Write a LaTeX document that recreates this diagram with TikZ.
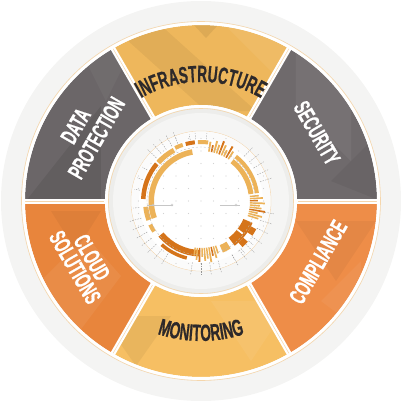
\documentclass[tikz,border=0pt]{standalone}
\usepackage{fontspec}
\usetikzlibrary{decorations.text}
\newfontfamily\lblfont[FakeStretch=0.58,FakeBold=0.6]{Liberation Sans}
\newcommand\seglbl{\lblfont\bfseries\fontsize{23.5pt}{24pt}\selectfont}
\definecolor{bgring}{RGB}{244,244,243}
\definecolor{innergray}{RGB}{237,237,235}
\definecolor{innerlight}{RGB}{245,245,244}
\definecolor{pale}{RGB}{245,214,172}
\definecolor{cInfra}{RGB}{238,183,92}
\definecolor{cSec}{RGB}{111,106,108}
\definecolor{cComp}{RGB}{238,141,72}
\definecolor{cMon}{RGB}{246,191,99}
\definecolor{cCloud}{RGB}{232,133,60}
\definecolor{cData}{RGB}{107,102,104}
\definecolor{darktext}{RGB}{45,41,42}
\definecolor{oLight}{RGB}{236,178,88}
\definecolor{oDark}{RGB}{213,116,26}
\definecolor{tickgray}{RGB}{150,150,150}
% annular sector: colour, angle1, angle2, r_in, r_out
\newcommand\annsec[5]{\fill[#1] (#2:#4) arc[start angle=#2,end angle=#3,radius=#4] -- (#3:#5) arc[start angle=#3,end angle=#2,radius=#5] -- cycle;}
\newcommand\clipsec[2]{\clip (#1:96) arc[start angle=#1,end angle=#2,radius=96] -- (#2:176) arc[start angle=#2,end angle=#1,radius=176] -- cycle;}
\tikzset{
  lbl/.style={decorate,decoration={text along path,text align=center,text={|\seglbl|#1}}},
  sidelbl/.style={font=\seglbl,inner sep=0pt,text=white},
  radtick/.style={tickgray,line width=0.35,dash pattern=on 1.5pt off 1.2pt},
}
\begin{document}
\begin{tikzpicture}[x=1pt,y=1pt]
\useasboundingbox (-201,-201) rectangle (201,201);
% outer light disc
\fill[bgring] (0,0) circle[radius=200];
% segments
\annsec{cInfra}{60}{120}{96}{176}
\annsec{cSec}{0}{60}{96}{176}
\annsec{cComp}{-60}{0}{96}{176}
\annsec{cMon}{-120}{-60}{96}{176}
\annsec{cCloud}{180}{240}{96}{176}
\annsec{cData}{120}{180}{96}{176}
% facets
\begin{scope}\clipsec{60}{120}
  \fill[black,opacity=.05] (-95,180) -- (-45,180) -- (55,90) -- (5,90) -- cycle;
  \fill[black,opacity=.07] (-8,177) -- (18,177) -- (5,163) -- cycle;
  \fill[white,opacity=.06] (20,180) -- (90,180) -- (90,110) -- cycle;
\end{scope}
\begin{scope}\clipsec{0}{60}
  \fill[white,opacity=.05] (95,165) -- (150,110) -- (150,40) -- (95,95) -- cycle;
  \fill[black,opacity=.05] (130,20) -- (180,70) -- (180,0) -- cycle;
\end{scope}
\begin{scope}\clipsec{-60}{0}
  \fill[black,opacity=.04] (95,-20) -- (175,-20) -- (135,-80) -- cycle;
  \fill[white,opacity=.05] (120,-100) -- (160,-60) -- (160,-130) -- cycle;
\end{scope}
\begin{scope}\clipsec{-120}{-60}
  \fill[black,opacity=.05] (-100,-115) -- (-30,-115) -- (-65,-165) -- cycle;
  \fill[white,opacity=.06] (10,-100) -- (90,-100) -- (50,-160) -- cycle;
\end{scope}
\begin{scope}\clipsec{180}{240}
  \fill[white,opacity=.06] (-165,-85) -- (-115,-35) -- (-80,-75) -- (-125,-135) -- cycle;
  \fill[black,opacity=.04] (-150,-10) -- (-100,-10) -- (-125,-50) -- cycle;
\end{scope}
\begin{scope}\clipsec{120}{180}
  \fill[black,opacity=.08] (-175,0) -- (-100,95) -- (-100,0) -- cycle;
  \fill[white,opacity=.04] (-120,150) -- (-70,150) -- (-95,100) -- cycle;
\end{scope}
% gaps between segments
\foreach \a in {0,60,...,300}{
  \draw[white,line width=5] (\a:93) -- (\a:179);
  \draw[pale,line width=0.5] (\a:97) -- (\a:176);
}
\draw[white,line width=3] (0,0) circle[radius=177.5];
\draw[white,line width=3] (0,0) circle[radius=94.5];
\draw[pale,line width=0.6] (0,0) circle[radius=179.5];
% inner area
\fill[innergray] (0,0) circle[radius=93];
\fill[innerlight] (0,0) circle[radius=88];
\draw[pale,line width=0.6] (0,0) circle[radius=92.5];
\draw[pale,line width=0.5] (0,0) circle[radius=70];
\fill[white!60!innerlight] (0,0) circle[radius=69.7];
\fill[white] (0,0) circle[radius=62];
% dot grid
\begin{scope}
  \clip (0,0) circle[radius=68];
  \foreach \i in {-5,...,5}{\foreach \j in {-5,...,5}{
    \fill[gray!35] (\i*12.5,\j*12.5) circle[radius=0.55];}}
\end{scope}
% radial gray ticks
\foreach \a in {18,25,32,39,46,112,118,124,130,136,196,203,210,217,224,231,238,262,270,278,286,-10,-18,-26,-35,-44,-52,-60}{
  \draw[radtick] (\a:62) -- (\a:74);
}
\foreach \a in {150,160,170,186,300,310,320,85,95,100}{
  \draw[radtick] (\a:62) -- (\a:68);
}
% outer ring pieces
\annsec{oLight}{83}{93}{57}{61}
\annsec{oDark}{96}{105}{57}{61}
\annsec{oLight}{108}{116}{57}{61}
\annsec{oLight}{118}{138}{55}{60}
\annsec{oDark}{140}{178}{55.5}{60}
\annsec{oLight}{186}{200}{53}{58}
\annsec{oLight}{205}{213}{54}{58}
\annsec{oDark}{228}{256}{57}{60.5}
\annsec{oLight}{8}{52}{54.5}{58.5}
% inner ring pieces
\annsec{oLight}{100}{200}{47}{52.5}
\annsec{oDark}{220}{268}{49}{55.5}
\annsec{oLight}{8}{52}{48}{53}
\annsec{oLight}{293}{302}{48}{56}
% dark block lower right
\annsec{oDark}{-53}{-23}{46}{56}
\annsec{oDark}{-34}{-27}{56}{62}
\annsec{oDark}{-48}{-41}{56}{62}
\annsec{white}{-39}{-37}{46}{53}
% radial bars top
\foreach \a/\r/\c in {56/59/oLight,59/63/oDark,62/57/oLight,65/61/oLight,68/64/oDark,71/59/oLight,74/62/oLight,77/57/oDark,80/60/oLight}{
  \pgfmathsetmacro\b{\a+1.8}
  \annsec{\c}{\a}{\b}{50}{\r}
}
% radial bars right
\foreach \a/\r/\c in {-18/60/oLight,-15.5/63/oLight,-13/58/oLight,-10.5/65/oDark,-8/61/oLight,-5.5/59/oLight,-3/64/oLight,-0.5/57/oDark,2/62/oLight,4.5/58/oLight}{
  \pgfmathsetmacro\b{\a+1.6}
  \annsec{\c}{\a}{\b}{49}{\r}
}
% radial bars bottom
\foreach \a/\r/\c in {262/55/oLight,264.8/59/oLight,267.6/61/oDark,270.4/56/oLight,273.2/60/oLight,276/58/oLight,278.8/62/oLight,281.6/56/oDark,284.4/59/oLight,287.2/55/oLight}{
  \pgfmathsetmacro\b{\a+1.7}
  \annsec{\c}{\a}{\b}{47}{\r}
}
% dashed guide circle
\draw[gray!55,line width=0.35,dash pattern=on 2pt off 2pt] (0,0) circle[radius=54];
% horizontal markers
\draw[gray!45,line width=0.4] (-54,-4) -- (-28,-4);
\draw[gray!45,line width=0.4] (-48,-4) circle[radius=1.2] (-29,-4) circle[radius=1.2];
\draw[gray!45,line width=0.4] (19,-4) -- (39,-4);
\draw[gray!45,line width=0.4] (35,-4) circle[radius=1.2];
% curved labels
\path[lbl={INFRASTRUCTURE},decoration={text color=darktext}] (150:119) arc[start angle=150,end angle=30,radius=119];
\path[lbl={MONITORING},decoration={text color=darktext}] (240:140) arc[start angle=240,end angle=300,radius=140];
% straight labels
\node[sidelbl,rotate=-60] (sec) at (30.4:134.5) {SECURITY};
\node[sidelbl,rotate=60] (comp) at (-27.5:132) {COMPLIANCE};
\node[sidelbl,rotate=-60,align=center] (cloud) at (207.6:132.5) {CLOUD\\[-4.5pt]SOLUTIONS};
\node[sidelbl,rotate=60,align=center] (data) at (149:134) {DATA\\PROTECTION};
\end{tikzpicture}
\end{document}
